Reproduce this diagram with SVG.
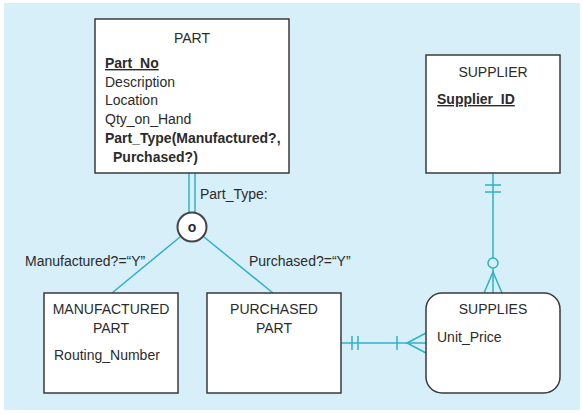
<svg xmlns="http://www.w3.org/2000/svg" width="583" height="414" viewBox="0 0 583 414">
<style>
.ent{fill:#ffffff;stroke:#3a3a3a;stroke-width:1.5}
.t{font-family:"Liberation Sans",Arial,sans-serif;font-size:14px;fill:#2b2b2b}
.b{font-weight:bold}
.c{stroke:#30b0c8;stroke-width:1.5;fill:none}
.mid{text-anchor:middle}
</style>
<rect x="0" y="0" width="583" height="414" fill="#ffffff"/>
<rect x="4" y="3" width="576" height="407" fill="#d6eff9"/>
<g id="connectors">
  <line class="c" x1="189" y1="173" x2="189" y2="213"/>
  <line class="c" x1="195" y1="173" x2="195" y2="213"/>
  <line class="c" x1="180" y1="237" x2="112" y2="293"/>
  <line class="c" x1="204" y1="237" x2="273" y2="293"/>
  <line class="c" x1="493" y1="173" x2="493" y2="293"/>
  <line class="c" x1="485" y1="185" x2="501" y2="185"/>
  <line class="c" x1="485" y1="192" x2="501" y2="192"/>
  <circle cx="493" cy="263" r="5" fill="#d6eff9" stroke="#30b0c8" stroke-width="1.5"/>
  <path class="c" d="M484,293 L493,272 L502,293"/>
  <line class="c" x1="341" y1="343" x2="426" y2="343"/>
  <line class="c" x1="352" y1="336" x2="352" y2="350"/>
  <line class="c" x1="358" y1="336" x2="358" y2="350"/>
  <line class="c" x1="397" y1="336" x2="397" y2="350"/>
  <path class="c" d="M426,333 L407,343 L426,353"/>
  <text class="t" x="200" y="199">Part_Type:</text>
  <text class="t" x="25" y="266">Manufactured?=“Y”</text>
  <text class="t" x="249" y="266">Purchased?=“Y”</text>
</g>
<g id="subtype-circle">
  <circle cx="192" cy="227" r="14.5" fill="#ffffff" stroke="#444" stroke-width="2"/>
  <text class="t b mid" x="192" y="232" font-size="13">o</text>
</g>
<g id="part">
  <rect class="ent" x="95" y="19" width="194" height="154"/>
  <text class="t mid" x="192" y="43">PART</text>
  <text class="t b" x="105" y="68" text-decoration="underline">Part_No</text>
  <text class="t" x="105" y="87">Description</text>
  <text class="t" x="105" y="105">Location</text>
  <text class="t" x="105" y="124">Qty_on_Hand</text>
  <text class="t b" x="105" y="143">Part_Type(Manufactured?,</text>
  <text class="t b" x="113" y="162">Purchased?)</text>
</g>
<g id="supplier">
  <rect class="ent" x="426" y="55" width="134" height="118"/>
  <text class="t mid" x="493" y="77">SUPPLIER</text>
  <text class="t b" x="437" y="104" text-decoration="underline">Supplier_ID</text>
</g>
<g id="manufactured-part">
  <rect class="ent" x="44" y="293" width="134" height="100"/>
  <text class="t mid" x="111" y="314">MANUFACTURED</text>
  <text class="t mid" x="111" y="333">PART</text>
  <text class="t" x="54" y="360">Routing_Number</text>
</g>
<g id="purchased-part">
  <rect class="ent" x="207" y="293" width="134" height="100"/>
  <text class="t mid" x="274" y="314">PURCHASED</text>
  <text class="t mid" x="274" y="333">PART</text>
</g>
<g id="supplies">
  <rect class="ent" x="426" y="293" width="134" height="100" rx="16" ry="16"/>
  <text class="t mid" x="493" y="314">SUPPLIES</text>
  <text class="t" x="437" y="342">Unit_Price</text>
</g>
</svg>
